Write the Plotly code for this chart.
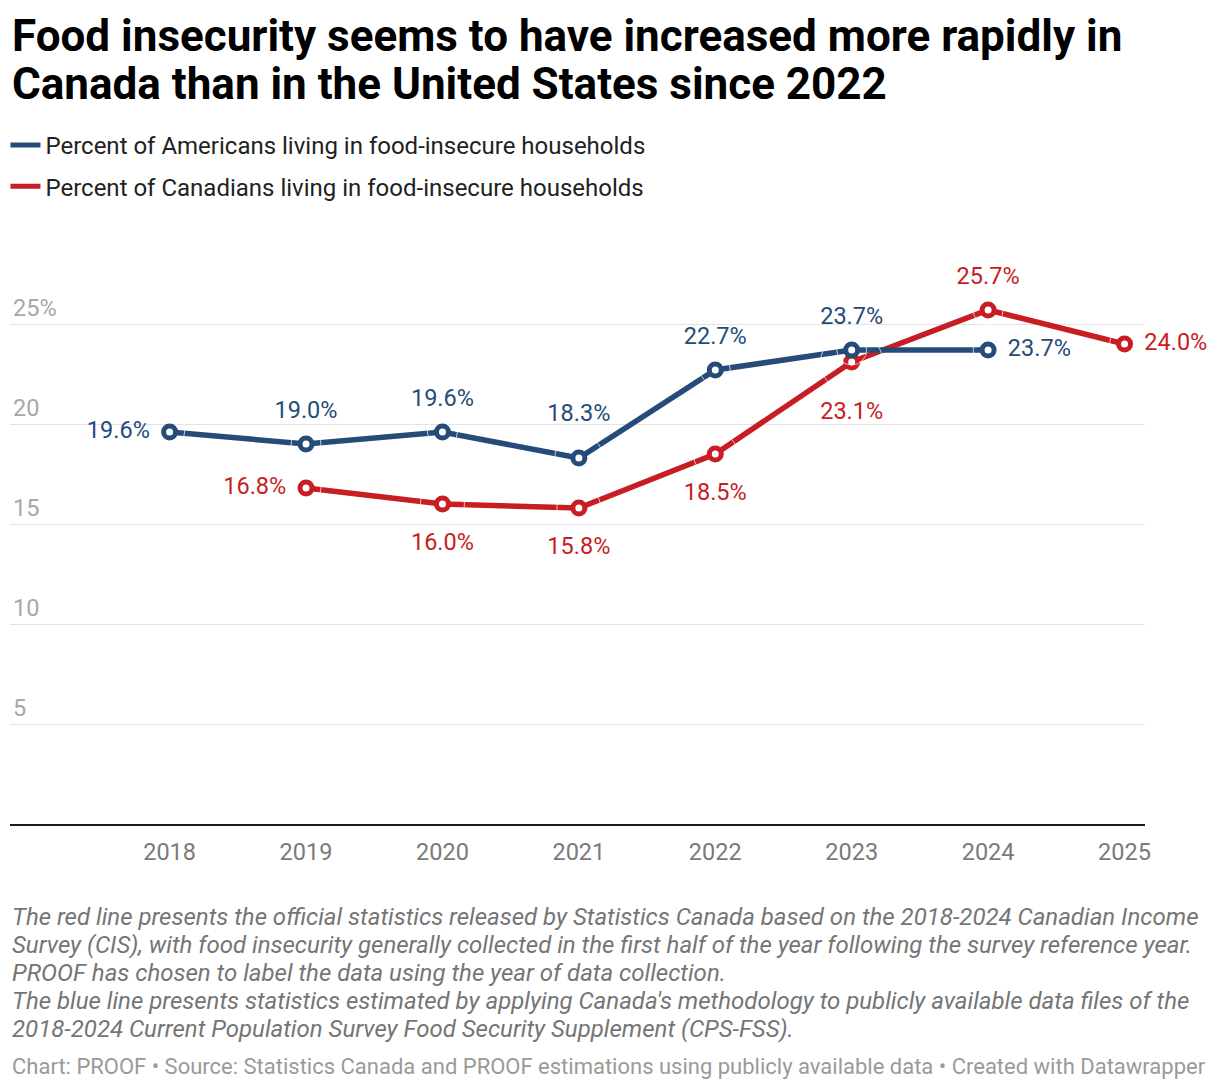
import plotly.graph_objects as go

# Data
years_us = [2018, 2019, 2020, 2021, 2022, 2023, 2024]
us_values = [19.6, 19.0, 19.6, 18.3, 22.7, 23.7, 23.7]
us_label_pos = ["middle left", "top center", "top center", "top center",
                "top center", "top center", "middle right"]
us_label_gap = [30, 30, 30, 48, 30, 30, 30]

years_ca = [2019, 2020, 2021, 2022, 2023, 2024, 2025]
ca_values = [16.8, 16.0, 15.8, 18.5, 23.1, 25.7, 24.0]
ca_label_pos = ["middle left", "bottom center", "bottom center", "bottom center",
                "bottom center", "top center", "middle right"]
ca_label_gap = [30, 44, 44, 44, 62, 30, 30]

x_ticks = [2018, 2019, 2020, 2021, 2022, 2023, 2024, 2025]
y_ticks = [5, 10, 15, 20, 25]
y_tick_text = ["5", "10", "15", "20", "25%"]

BLUE = "#254c79"
RED = "#c81d23"
FONT = "Roboto"

title_lines = ["Food insecurity seems to have increased more rapidly in",
               "Canada than in the United States since 2022"]
note_lines = [
    "The red line presents the official statistics released by Statistics Canada based on the 2018-2024 Canadian Income",
    "Survey (CIS), with food insecurity generally collected in the first half of the year following the survey reference year.",
    "PROOF has chosen to label the data using the year of data collection.",
    "The blue line presents statistics estimated by applying Canada's methodology to publicly available data files of the",
    "2018-2024 Current Population Survey Food Security Supplement (CPS-FSS).",
]
source = "Chart: PROOF • Source: Statistics Canada and PROOF estimations using publicly available data • Created with Datawrapper"

H = 1090
TOP, BOTTOM = 284, 824  # plot area in pixels


def py(pix):
    # pixel row -> paper y
    return (BOTTOM - pix) / (BOTTOM - TOP)


fig = go.Figure()

# Canada first so the US line sits on top where they cross
for xs, ys, col in [(years_ca, ca_values, RED), (years_us, us_values, BLUE)]:
    fig.add_trace(go.Scatter(
        x=xs, y=ys, mode="lines+markers",
        line=dict(color=col, width=5.5),
        marker=dict(size=12, color="white", line=dict(color=col, width=5)),
        cliponaxis=False, showlegend=False, hoverinfo="skip",
    ))

# value labels, pushed away from the points by invisible markers
for xs, ys, col, pos, gap in [(years_ca, ca_values, RED, ca_label_pos, ca_label_gap),
                              (years_us, us_values, BLUE, us_label_pos, us_label_gap)]:
    fig.add_trace(go.Scatter(
        x=xs, y=ys, mode="markers+text",
        marker=dict(size=gap, color="rgba(0,0,0,0)"),
        text=[f"{v:.1f}%" for v in ys], textposition=pos,
        textfont=dict(family=FONT, size=23.5, color=col),
        cliponaxis=False, showlegend=False, hoverinfo="skip",
    ))

# legend-only entries
for name, col, grp in [("Percent of Americans living in food-insecure households", BLUE, "a"),
                       ("Percent of Canadians living in food-insecure households", RED, "b")]:
    fig.add_trace(go.Scatter(x=[None], y=[None], mode="lines", name=name,
                             line=dict(color=col, width=5), legendgroup=grp))

fig.update_layout(
    width=1220, height=H,
    margin=dict(l=10, r=75, t=TOP, b=H - BOTTOM),
    paper_bgcolor="white", plot_bgcolor="white",
    font=dict(family=FONT, color="#222"),
    legend=dict(x=-0.004, xanchor="left", yref="container", y=1 - 123 / H, yanchor="top",
                orientation="v", traceorder="grouped", tracegroupgap=7,
                itemwidth=30, font=dict(family=FONT, size=24, color="#222"),
                bgcolor="rgba(0,0,0,0)"),
    showlegend=True,
)

fig.update_xaxes(
    range=[2016.83, 2025.15], tickvals=x_ticks, ticktext=[str(t) for t in x_ticks],
    showgrid=False, zeroline=False, showline=True, linecolor="#1a1a1a", linewidth=2,
    ticks="", ticklabelstandoff=6,
    tickfont=dict(family=FONT, size=23.5, color="#7a7a7a"),
)
fig.update_yaxes(
    range=[0, 27], tickvals=y_ticks, ticktext=y_tick_text,
    showgrid=True, gridcolor="#e3e3e3", gridwidth=1, zeroline=False,
    ticks="", ticklabelposition="inside top",
    tickfont=dict(family=FONT, size=23.5, color="#a8a8a8"),
)

# title lines
for i, line in enumerate(title_lines):
    fig.add_annotation(text=f"<b>{line}</b>", xref="paper", yref="paper",
                       x=0, y=py(36 + 48 * i), xanchor="left", yanchor="middle",
                       showarrow=False, font=dict(family=FONT, size=44, color="#000"))

# notes
for i, line in enumerate(note_lines):
    fig.add_annotation(text=f"<i>{line}</i>", xref="paper", yref="paper",
                       x=0, y=py(917 + 28 * i), xanchor="left", yanchor="middle",
                       showarrow=False, font=dict(family=FONT, size=24, color="#757575"))
fig.add_annotation(text=source, xref="paper", yref="paper", x=0, y=py(1066),
                   xanchor="left", yanchor="middle", showarrow=False,
                   font=dict(family=FONT, size=22, color="#9a9a9a"))

fig.write_html("out.html", config={"displayModeBar": False},
               post_script="document.body.style.margin='0';")
